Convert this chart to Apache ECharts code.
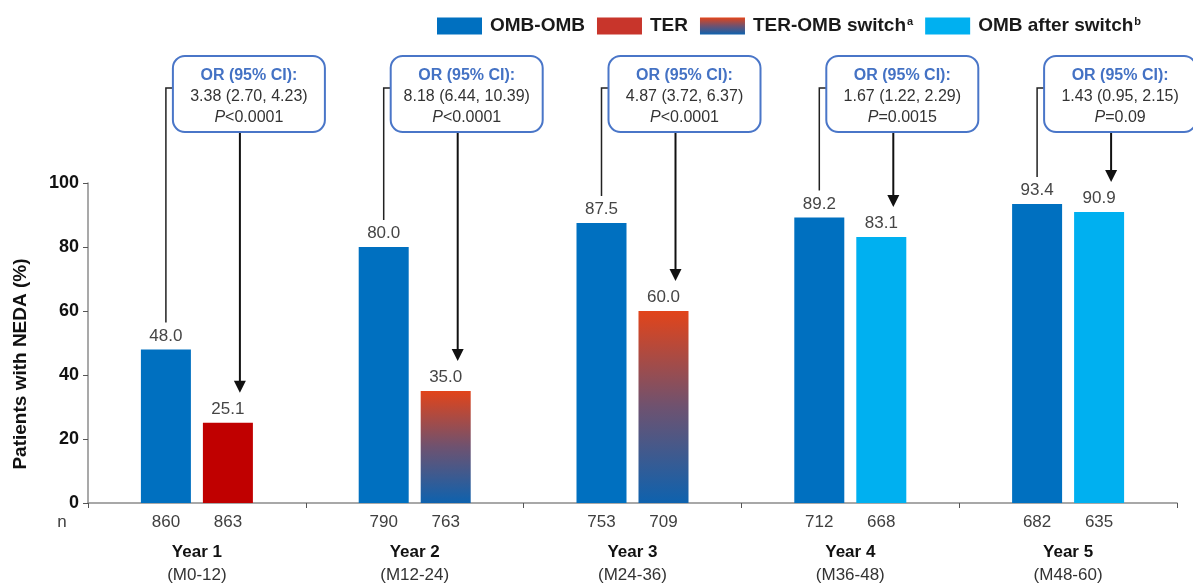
<!DOCTYPE html>
<html>
<head>
<meta charset="utf-8">
<script src="https://cdn.jsdelivr.net/npm/echarts@6/dist/echarts.min.js"></script>
<style>
  html, body { margin: 0; padding: 0; background: #fff; }
  #chart { width: 1193px; height: 588px; }
</style>
</head>
<body>
<div id="chart"></div>
<script>
// Study years on the x axis
const years = ['Year 1', 'Year 2', 'Year 3', 'Year 4', 'Year 5'];
const periods = ['(M0-12)', '(M12-24)', '(M24-36)', '(M36-48)', '(M48-60)'];

// Patients per bar
const nOmbOmb = [860, 790, 753, 712, 682];
const nComparator = [863, 763, 709, 668, 635];

// Patients with NEDA (%)
const ombOmb = [48.0, 80.0, 87.5, 89.2, 93.4];
const ter = [25.1, '-', '-', '-', '-'];
const terOmbSwitch = ['-', 35.0, 60.0, '-', '-'];
const ombAfterSwitch = ['-', '-', '-', 83.1, 90.9];

// Odds ratio call-outs per year
const orValues = ['3.38 (2.70, 4.23)', '8.18 (6.44, 10.39)', '4.87 (3.72, 6.37)', '1.67 (1.22, 2.29)', '1.43 (0.95, 2.15)'];
const pValues = ['<0.0001', '<0.0001', '<0.0001', '=0.0015', '=0.09'];

const FONT = '"Liberation Sans", Arial, sans-serif';
const BLUE = '#0070C0';
const RED = '#C00000';
const LIGHT_BLUE = '#00B0F0';
const switchGradient = {
  type: 'linear', x: 0, y: 0, x2: 0, y2: 1,
  colorStops: [
    { offset: 0, color: '#E2441A' },
    { offset: 0.5, color: '#6E5270' },
    { offset: 1, color: '#0E62AE' }
  ]
};

const chart = echarts.init(document.getElementById('chart'), null, { renderer: 'canvas' });

const valueLabel = {
  show: true,
  position: 'top',
  distance: 5,
  fontFamily: FONT,
  fontSize: 17,
  color: '#454545',
  formatter: p => Number(p.value).toFixed(1)
};

const option = {
  animation: false,
  textStyle: { fontFamily: FONT },
  legend: {
    left: 432,
    top: 11,
    itemWidth: 45,
    itemHeight: 17,
    itemGap: 12,
    icon: 'rect',
    selectedMode: false,
    data: [
      { name: 'OMB-OMB', itemStyle: { color: BLUE } },
      { name: 'TER', itemStyle: { color: '#C8352B' } },
      { name: 'TER-OMB switch', itemStyle: { color: switchGradient } },
      { name: 'OMB after switch', itemStyle: { color: LIGHT_BLUE } }
    ],
    formatter: name => {
      if (name === 'TER-OMB switch') return '{t|TER-OMB switch}{s|a}';
      if (name === 'OMB after switch') return '{t|OMB after switch}{s|b}';
      return '{t|' + name + '}';
    },
    textStyle: {
      fontFamily: FONT,
      rich: {
        t: { fontFamily: FONT, fontSize: 19, fontWeight: 'bold', color: '#1a1a1a', padding: [0, 0, 0, 3] },
        s: { fontFamily: FONT, fontSize: 11, fontWeight: 'bold', color: '#1a1a1a', padding: [0, 0, 9, 1] }
      }
    }
  },
  grid: { left: 88, right: 16, top: 183, bottom: 85 },
  xAxis: {
    type: 'category',
    data: years,
    axisLine: { lineStyle: { color: '#8c8c8c', width: 1.5 } },
    axisTick: { show: true, length: 5, lineStyle: { color: '#555' } },
    axisLabel: {
      interval: 0,
      margin: 1,
      formatter: (value, i) =>
        '{n|' + nOmbOmb[i] + '}{n|' + nComparator[i] + '}\n{y|' + value + '}\n{m|' + periods[i] + '}',
      rich: {
        n: { fontFamily: FONT, fontSize: 17, color: '#404040', width: 62, align: 'center', lineHeight: 36 },
        y: { fontFamily: FONT, fontSize: 17, fontWeight: 'bold', color: '#111', lineHeight: 24 },
        m: { fontFamily: FONT, fontSize: 17, color: '#333', lineHeight: 22 }
      }
    }
  },
  yAxis: {
    type: 'value',
    min: 0,
    max: 100,
    interval: 20,
    name: 'Patients with NEDA (%)',
    nameLocation: 'middle',
    nameGap: 58,
    nameTextStyle: {
      fontFamily: FONT, fontSize: 19, fontWeight: 'bold', color: '#111',
      padding: [0, 42, 0, 0]
    },
    axisLine: { show: true, lineStyle: { color: '#8c8c8c', width: 1.5 } },
    axisTick: { show: true, length: 5, lineStyle: { color: '#555' } },
    axisLabel: { fontFamily: FONT, fontSize: 18, fontWeight: 'bold', color: '#111', margin: 9 },
    splitLine: { show: false }
  },
  series: [
    {
      name: 'OMB-OMB', type: 'bar', data: ombOmb,
      barWidth: 50, barGap: '24%',
      itemStyle: { color: BLUE },
      label: valueLabel
    },
    {
      name: 'TER', type: 'bar', stack: 'comparator', data: ter,
      barWidth: 50, barGap: '24%',
      itemStyle: { color: RED },
      label: valueLabel
    },
    {
      name: 'TER-OMB switch', type: 'bar', stack: 'comparator', data: terOmbSwitch,
      barWidth: 50, barGap: '24%',
      itemStyle: { color: switchGradient },
      label: valueLabel
    },
    {
      name: 'OMB after switch', type: 'bar', stack: 'comparator', data: ombAfterSwitch,
      barWidth: 50, barGap: '24%',
      itemStyle: { color: LIGHT_BLUE },
      label: valueLabel
    }
  ]
};

chart.setOption(option);

// Build call-out boxes, connectors and arrows from the laid-out bars
function barCenter(seriesIndex, i) {
  const layout = chart.getModel().getSeriesByIndex(seriesIndex).getData().getItemLayout(i);
  return layout.x + layout.width / 2;
}
function valueY(i, v) {
  return chart.convertToPixel({ gridIndex: 0 }, [i, v])[1];
}

const comparatorSeries = [ter, terOmbSwitch, ombAfterSwitch];
const BOX_TOP = 56, BOX_W = 152, BOX_H = 76;
const graphics = [];

years.forEach((_, i) => {
  const x1 = barCenter(0, i);
  const top1 = valueY(i, ombOmb[i]);
  const k = comparatorSeries.findIndex(arr => arr[i] !== '-');
  const v2 = comparatorSeries[k][i];
  const top2 = valueY(i, v2);
  const boxLeft = x1 + 7;
  const arrowX = boxLeft + 67;
  const stubY = BOX_TOP + 32;

  // connector to the OMB-OMB bar
  graphics.push({
    type: 'polyline', z: 10,
    shape: { points: [[boxLeft, stubY], [x1, stubY], [x1, top1 - 27]] },
    style: { stroke: '#222', lineWidth: 1.5, fill: null }
  });
  // arrow to the comparator bar
  const tipY = top2 - 30;
  graphics.push({
    type: 'line', z: 10,
    shape: { x1: arrowX, y1: BOX_TOP + BOX_H, x2: arrowX, y2: tipY - 10 },
    style: { stroke: '#111', lineWidth: 2 }
  });
  graphics.push({
    type: 'polygon', z: 10,
    shape: { points: [[arrowX - 6, tipY - 12], [arrowX + 6, tipY - 12], [arrowX, tipY]] },
    style: { fill: '#111' }
  });
  // box
  graphics.push({
    type: 'rect', z: 11,
    shape: { x: boxLeft, y: BOX_TOP, width: BOX_W, height: BOX_H, r: 12 },
    style: { fill: '#fff', stroke: '#4A76C8', lineWidth: 2 }
  });
  graphics.push({
    type: 'text', z: 12,
    x: boxLeft + BOX_W / 2,
    y: BOX_TOP + 41,
    style: {
      text: '{t|OR (95% CI):}\n{v|' + orValues[i] + '}\n{i|P}{v|' + pValues[i] + '}',
      align: 'center',
      verticalAlign: 'middle',
      rich: {
        t: { fontFamily: FONT, fontSize: 16, fontWeight: 'bold', fill: '#4472C4', lineHeight: 21 },
        v: { fontFamily: FONT, fontSize: 16, fill: '#333', lineHeight: 21 },
        i: { fontFamily: FONT, fontSize: 16, fontStyle: 'italic', fill: '#333', lineHeight: 21 }
      }
    }
  });
});

// row label for patient counts
graphics.push({
  type: 'text',
  x: 62, y: 522,
  style: { text: 'n', fontFamily: FONT, fontSize: 17, fill: '#404040', align: 'center', verticalAlign: 'middle' }
});

chart.setOption({ graphic: graphics });
</script>
</body>
</html>
